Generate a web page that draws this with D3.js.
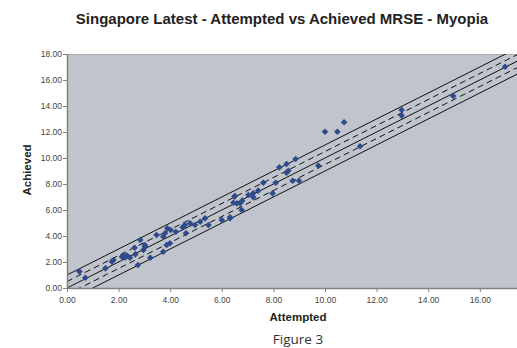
<!DOCTYPE html>
<html>
<head>
<meta charset="utf-8">
<script src="https://cdn.jsdelivr.net/npm/d3@7"></script>
<style>
  body { margin: 0; background: #fff; }
  svg { display: block; }
</style>
</head>
<body>
<div class="chart"></div>
<script>
// attempted vs achieved
var attempted = [0.48, 0.71, 1.49, 1.74, 1.80, 2.13, 2.20, 2.26, 2.33, 2.44, 2.62, 2.65, 2.75, 2.84, 2.96,
  3.02, 3.02, 3.23, 3.47, 3.73, 3.73, 3.80, 3.86, 3.89, 3.99, 4.02, 4.22, 4.48, 4.57, 4.61, 4.77, 4.96,
  5.16, 5.35, 5.48, 6.00, 6.32, 6.32, 6.45, 6.49, 6.51, 6.58, 6.71, 6.77, 6.79, 7.03, 7.22, 7.22, 7.41,
  7.61, 7.97, 8.09, 8.23, 8.51, 8.51, 8.58, 8.75, 8.86, 8.99, 9.74, 10.00, 10.48, 10.74, 11.36, 12.97,
  12.97, 14.97, 16.98];
var achieved = [1.26, 0.79, 1.51, 2.03, 2.15, 2.41, 2.54, 2.36, 2.49, 2.33, 3.10, 2.59, 1.77, 3.69, 2.92,
  3.18, 3.31, 2.33, 4.08, 2.79, 3.95, 4.21, 3.31, 4.59, 3.44, 4.46, 4.33, 4.67, 4.85, 4.21, 4.98, 4.85,
  5.10, 5.36, 4.85, 5.23, 5.36, 5.44, 6.56, 7.03, 7.08, 6.51, 6.51, 6.00, 6.72, 7.15, 6.98, 7.28, 7.49,
  8.10, 7.28, 8.10, 9.28, 9.54, 8.87, 9.02, 8.25, 9.92, 8.25, 9.41, 12.02, 12.02, 12.75, 10.90, 13.69,
  13.26, 14.77, 17.02];
// faint second series
var attempted2 = [0.49, 1.49];
var achieved2 = [0.05, 1.05];
// offsets of the reference lines y = x + k
var solidOffsets = [-1, 0, 1];
var dashedOffsets = [-0.5, 0.5];
var xTicks = [0, 2, 4, 6, 8, 10, 12, 14, 16];
var yTicks = [0, 2, 4, 6, 8, 10, 12, 14, 16, 18];

var w = 517, h = 348;
var plotLeft = 67, plotTop = 54, plotBottom = 288;

var svg = d3.select(".chart").append("svg")
  .attr("width", w).attr("height", h);

var x = d3.scaleLinear().domain([0, 18]).range([plotLeft, plotLeft + 25.8 * 18]);
var y = d3.scaleLinear().domain([0, 18]).range([plotBottom, plotTop]);

svg.append("defs").append("clipPath").attr("id", "plot")
  .append("rect").attr("x", plotLeft).attr("y", plotTop)
  .attr("width", w - plotLeft).attr("height", plotBottom - plotTop);

svg.append("rect")
  .attr("x", plotLeft).attr("y", plotTop)
  .attr("width", w - plotLeft).attr("height", plotBottom - plotTop)
  .attr("fill", "#c0c4cc");
svg.append("line")
  .attr("x1", plotLeft).attr("x2", w).attr("y1", plotTop + 0.5).attr("y2", plotTop + 0.5)
  .attr("stroke", "#a8acb3");

var g = svg.append("g").attr("clip-path", "url(#plot)");

function refLine(k) {
  return d3.line()([[x(0), y(k)], [x(18), y(18 + k)]]);
}
g.selectAll(".solid").data(solidOffsets).enter().append("path")
  .attr("d", refLine).attr("stroke", "#111").attr("stroke-width", 1).attr("fill", "none");
g.selectAll(".dash").data(dashedOffsets).enter().append("path")
  .attr("d", refLine).attr("stroke", "#111").attr("stroke-width", 1)
  .attr("stroke-dasharray", "6,4").attr("fill", "none");

var diamond = d3.symbol().type(d3.symbolSquare).size(22);
g.selectAll(".pt").data(d3.range(attempted.length)).enter().append("path")
  .attr("d", diamond)
  .attr("transform", function(i) { return "translate(" + x(attempted[i]) + "," + y(achieved[i]) + ") rotate(45)"; })
  .attr("fill", "#2f4b8c");
g.selectAll(".pt2").data(d3.range(attempted2.length)).enter().append("path")
  .attr("d", d3.symbol().type(d3.symbolSquare).size(4))
  .attr("transform", function(i) { return "translate(" + x(attempted2[i]) + "," + y(achieved2[i]) + ") rotate(45)"; })
  .attr("fill", "#c070b0");

var xAxis = svg.append("g").attr("transform", "translate(0," + plotBottom + ")")
  .call(d3.axisBottom(x).tickValues(xTicks).tickFormat(d3.format(".2f")).tickSize(4).tickSizeOuter(0));
var yAxis = svg.append("g").attr("transform", "translate(" + plotLeft + ",0)")
  .call(d3.axisLeft(y).tickValues(yTicks).tickFormat(d3.format(".2f")).tickSize(4).tickSizeOuter(0));
[xAxis, yAxis].forEach(function(a) {
  a.select(".domain").attr("stroke", "#808080").attr("stroke-width", 1.5);
  a.selectAll(".tick line").attr("stroke", "#808080");
  a.selectAll("text").attr("fill", "#444").attr("font-family", "Liberation Sans, Arial, sans-serif")
    .attr("font-size", "8.5px");
});
xAxis.selectAll("text").attr("dy", "0.9em");
yAxis.selectAll("text").attr("x", -5);

svg.append("text")
  .attr("x", 282).attr("y", 24).attr("text-anchor", "middle")
  .attr("font-family", "Liberation Sans, Arial, sans-serif").attr("font-weight", "bold")
  .attr("font-size", "15px").attr("fill", "#222")
  .text("Singapore Latest - Attempted vs Achieved MRSE - Myopia");

svg.append("text")
  .attr("x", 298).attr("y", 321).attr("text-anchor", "middle")
  .attr("font-family", "Liberation Sans, Arial, sans-serif").attr("font-weight", "bold")
  .attr("font-size", "11.5px").attr("fill", "#222")
  .text("Attempted");

svg.append("text")
  .attr("transform", "translate(31,170) rotate(-90)").attr("text-anchor", "middle")
  .attr("font-family", "Liberation Sans, Arial, sans-serif").attr("font-weight", "bold")
  .attr("font-size", "11.5px").attr("fill", "#222")
  .text("Achieved");

svg.append("text")
  .attr("x", 298).attr("y", 344).attr("text-anchor", "middle")
  .attr("font-family", "Open Sans, sans-serif")
  .attr("font-size", "13.5px").attr("fill", "#333")
  .text("Figure 3");
</script>
</body>
</html>
